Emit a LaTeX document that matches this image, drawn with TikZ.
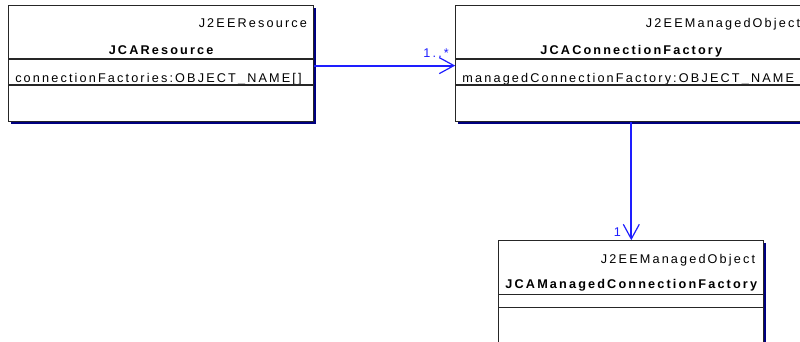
\documentclass[tikz,border=0pt]{standalone}
\usepackage{fontspec}
\setmainfont{Liberation Sans}[LetterSpace=17]
\usetikzlibrary{positioning,shadows,arrows.meta}
\definecolor{umlblue}{RGB}{30,30,255}
\definecolor{umlnavy}{RGB}{0,0,128}

\tikzset{
	classbox/.style={draw=black!85, fill=white, line width=0.9pt, inner sep=0pt,
		drop shadow={shadow xshift=2pt, shadow yshift=-2pt, fill=umlnavy, opacity=1}},
	stereo/.style={anchor=base east, inner sep=0pt, font=\fontsize{9.5pt}{11pt}\selectfont},
	cname/.style={anchor=base, inner sep=0pt, font=\fontsize{9.5pt}{11pt}\selectfont\bfseries},
	attr/.style={anchor=base west, inner sep=0pt, font=\fontsize{9.5pt}{11pt}\selectfont},
	assoc/.style={draw=umlblue, line width=1.5pt, -{Straight Barb[length=11pt, width=12pt, line width=0.9pt]}},
	mult/.style={anchor=base east, inner sep=0pt, text=umlblue, font=\fontsize{9.5pt}{11pt}\selectfont},
	divider/.style={draw=black!85, line width=0.9pt}
}

\begin{document}
\begin{tikzpicture}
	\useasboundingbox (0,0) rectangle (600pt,-256.5pt);
	% classes
	\node[classbox, anchor=north west, minimum width=228.75pt, minimum height=87pt] (jcares) at (6pt,-3.75pt) {};
	\node[classbox, right=105.75pt of jcares, minimum width=263.25pt, minimum height=87pt] (jcafac) {};
	\node[classbox, below=88.5pt of jcafac, minimum width=198.75pt, minimum height=90pt] (jcamcf) {};

	% JCAResource
	\node[stereo] (jcares-st) at ([xshift=-5.25pt, yshift=-17.25pt]jcares.north east) {J2EEResource};
	\node[cname] (jcares-nm) at ([yshift=-37.5pt]jcares.north) {JCAResource};
	\draw[divider] ([yshift=-40.5pt]jcares.north west) -- ([yshift=-40.5pt]jcares.north east);
	\node[attr] (jcares-at) at ([xshift=5.25pt, yshift=-58.5pt]jcares.north west) {connectionFactories:OBJECT\_NAME[]};
	\draw[divider] ([yshift=-60pt]jcares.north west) -- ([yshift=-60pt]jcares.north east);

	% JCAConnectionFactory
	\node[stereo] (jcafac-st) at ([xshift=-5.25pt, yshift=-17.25pt]jcafac.north east) {J2EEManagedObject};
	\node[cname] (jcafac-nm) at ([yshift=-37.5pt]jcafac.north) {JCAConnectionFactory};
	\draw[divider] ([yshift=-40.5pt]jcafac.north west) -- ([yshift=-40.5pt]jcafac.north east);
	\node[attr] (jcafac-at) at ([xshift=5.25pt, yshift=-58.5pt]jcafac.north west) {managedConnectionFactory:OBJECT\_NAME};
	\draw[divider] ([yshift=-60pt]jcafac.north west) -- ([yshift=-60pt]jcafac.north east);

	% JCAManagedConnectionFactory
	\node[stereo] (jcamcf-st) at ([xshift=-6.75pt, yshift=-17.25pt]jcamcf.north east) {J2EEManagedObject};
	\node[cname] (jcamcf-nm) at ([yshift=-36pt]jcamcf.north) {JCAManagedConnectionFactory};
	\draw[divider] ([yshift=-40.5pt]jcamcf.north west) -- ([yshift=-40.5pt]jcamcf.north east);
	\draw[divider] ([yshift=-50.25pt]jcamcf.north west) -- ([yshift=-50.25pt]jcamcf.north east);

	% associations
	\draw[assoc] ([yshift=-1.5pt]jcares.east) -- ([yshift=-1.5pt]jcares.east -| jcafac.west);
	\node[mult] (m-fac) at ([xshift=-4.5pt, yshift=4.5pt]jcares.east -| jcafac.west) {1..*};
	\draw[assoc] (jcafac.south) -- (jcamcf.north);
	\node[mult] (m-mcf) at ([xshift=-7.5pt, yshift=3pt]jcamcf.north) {1};
\end{tikzpicture}
\end{document}
